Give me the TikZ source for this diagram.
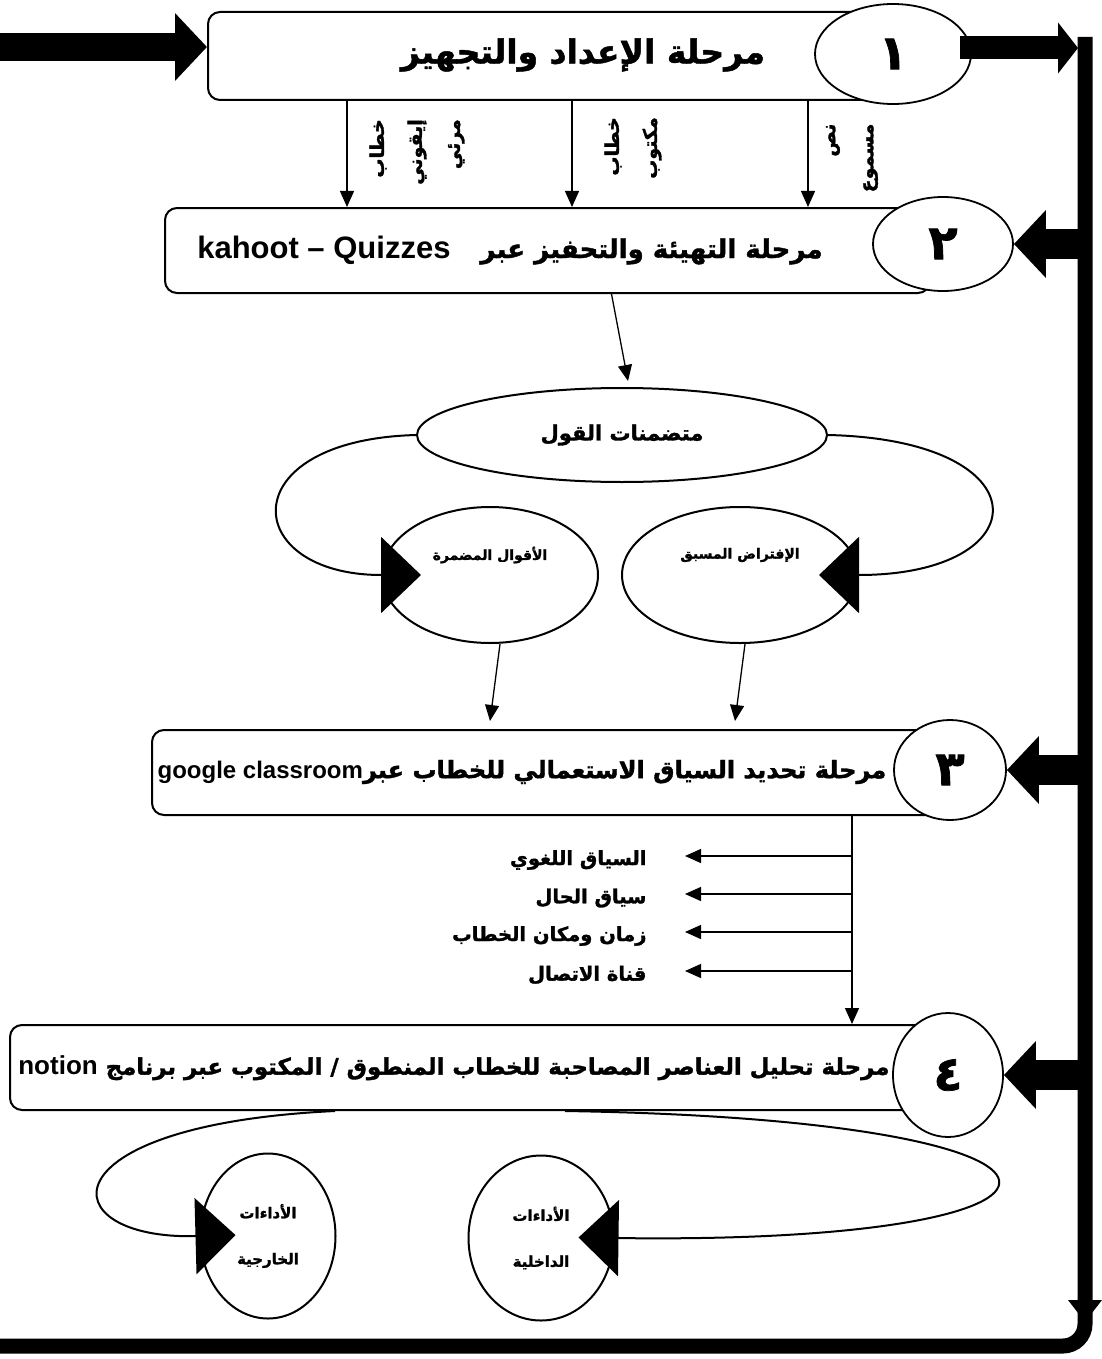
\documentclass[tikz,border=0pt]{standalone}
\usepackage{fontspec}
\usetikzlibrary{arrows.meta,shapes.geometric,positioning,calc}
\TeXXeTstate=1
\newfontfamily\arabicfont[Script=Arabic, BoldFeatures={FakeBold=1.5}]{DejaVu Sans}
\newfontfamily\latinfont{Liberation Sans}
\newcommand{\artext}[1]{\beginR #1\endR}
\newcommand{\entext}[1]{\beginL{\latinfont\bfseries #1}\endL}

\tikzset{
  stagebox/.style={draw, line width=2pt, rounded corners=12pt, inner sep=0pt},
  stagenum/.style={draw, ellipse, fill=white, line width=1.8pt, inner sep=0pt,
    font=\arabicfont\bfseries\fontsize{48}{52}\selectfont},
  stagetext/.style={font=\arabicfont\bfseries\fontsize{24}{28}\selectfont},
  oval/.style={draw, ellipse, line width=2pt, inner sep=0pt},
  smalltext/.style={font=\arabicfont\bfseries\fontsize{14}{46}\selectfont, align=center},
  listtext/.style={font=\arabicfont\bfseries\fontsize{19.5}{22}\selectfont},
  vlabel/.style={rotate=90, align=right, font=\arabicfont\bfseries\fontsize{19}{38}\selectfont},
  thin arrow/.style={line width=1.3pt, -{Triangle[length=16pt,width=14pt]}},
  fat arrow/.style={line width=30pt, -{Triangle[length=32pt,width=66pt]}},
  loop arrow/.style={line width=2pt, -{Triangle[length=40pt,width=76pt]}},
}

\begin{document}
\begin{tikzpicture}[x=1pt,y=-1pt]
\useasboundingbox (0,0) rectangle (1102,1359);

% right and bottom frame
\coordinate (bartop) at (1085,37);
\draw[line width=15pt, rounded corners=22pt] (bartop) -- (1085,1346) -- (0,1346);
\fill (1068,1300) -- (1102,1300) -- (1085,1322) -- cycle;

% stage 1
\node[stagebox, minimum width=692pt, minimum height=88pt] (b1) at (554,56) {};
\node[stagenum, minimum width=156pt, minimum height=100pt] (c1) at (893,54) {١};
\node[stagetext, font=\arabicfont\bfseries\fontsize{33}{36}\selectfont] (t1) at (583,55) {\artext{مرحلة الإعداد والتجهيز}};
\coordinate (in1) at (0,47);
\draw[fat arrow, line width=28pt] (in1) -- (in1 -| b1.west);
\draw[line width=23pt, -{Triangle[length=20pt,width=50pt]}] ($(c1.east)+(-12,-6)$) -- ($(bartop |- c1.east)+(-7,-6)$);

% stage 2
\node[stagebox, minimum width=765pt, minimum height=85pt] (b2) at (547.5,250.5) {};
\node[stagenum, minimum width=140pt, minimum height=94pt] (c2) at (943,244) {٢};
\node[stagetext, font=\arabicfont\bfseries\fontsize{26}{30}\selectfont] (t2) at (510,250) {\artext{مرحلة التهيئة والتحفيز عبر\hspace{30pt}\entext{\fontsize{31}{34}\selectfont kahoot – Quizzes}}};
\foreach \x in {347,572,808}
  \draw[thin arrow] (b1.south -| \x,0) -- (b2.north -| \x,0);
\node[vlabel] (v1) at (417,152) {\artext{خطاب}\\\artext{إيقوني}\\\artext{مرئي}};
\node[vlabel] (v2) at (633,148) {\artext{خطاب}\\\artext{مكتوب}};
\node[vlabel] (v3) at (852,158) {\artext{نص}\\\artext{مسموع}};

% implicature
\node[oval, minimum width=410pt, minimum height=94pt, font=\arabicfont\bfseries\fontsize{21}{24}\selectfont] (e0) at (622,435) {\artext{متضمنات القول}};
\draw[thin arrow] ($(b2.south)+(64,0)$) -- ($(e0.north)+(6,-6)$);
\node[oval, minimum width=216pt, minimum height=136pt] (e1) at (490,575) {};
\node[oval, minimum width=236pt, minimum height=136pt] (e2) at (740,575) {};
\node[smalltext] (e1t) at ($(e1)+(0,-20)$) {\artext{الأقوال المضمرة}};
\node[smalltext] (e2t) at ($(e2)+(0,-20)$) {\artext{الإفتراض المسبق}};
\draw[loop arrow, shorten >=-40pt] (e0.west) .. controls (230,440) and (240,575) .. (e1.west);
\draw[loop arrow, shorten >=-40pt] (e0.east) .. controls (1045,440) and (1040,575) .. (e2.east);

% stage 3
\node[stagebox, minimum width=788pt, minimum height=85pt] (b3) at (546,772.5) {};
\node[stagenum, minimum width=112pt, minimum height=100pt] (c3) at (950,770) {٣};
\node[stagetext] (t3) at (522,772) {\artext{مرحلة تحديد السياق الاستعمالي للخطاب عبر\entext{google classroom}}};
\draw[thin arrow] ($(e1.south)+(10,0)$) -- ($(b3.north -| e1.south)+(0,-8)$);
\draw[thin arrow] ($(e2.south)+(5,0)$) -- ($(b3.north -| e2.south)+(-5,-8)$);
\coordinate (split) at (b3.south -| 852,0);
\foreach \y/\txt [count=\i] in {860/السياق اللغوي, 898/سياق الحال, 936/زمان ومكان الخطاب, 975/قناة الاتصال}{
  \node[listtext, anchor=east] (item\i) at (650,\y) {\artext{\txt}};
  \draw[thin arrow] ($(split |- item\i.east)+(0,-4)$) -- ($(item\i.east)+(35,-4)$);
}

% stage 4
\node[stagebox, minimum width=930pt, minimum height=85pt] (b4) at (475,1067.5) {};
\node[stagenum, minimum width=110pt, minimum height=124pt] (c4) at (948,1075) {٤};
\node[stagetext, font=\arabicfont\bfseries\fontsize{22.8}{27}\selectfont] (t4) at (454,1068) {\artext{مرحلة تحليل العناصر المصاحبة للخطاب المنطوق / المكتوب عبر برنامج \entext{\fontsize{26}{30}\selectfont notion}}};
\draw[thin arrow] (split) -- (b4.north -| split);

% performatives
\node[oval, minimum width=135pt, minimum height=165pt, smalltext, font=\arabicfont\bfseries\fontsize{15}{46}\selectfont] (o1) at (268,1236) {\artext{الأداءات}\\\artext{الخارجية}};
\node[oval, minimum width=145pt, minimum height=165pt, smalltext, font=\arabicfont\bfseries\fontsize{15}{46}\selectfont] (o2) at (541,1238) {\artext{الأداءات}\\\artext{الداخلية}};
\draw[loop arrow, shorten >=-36pt] ($(b4.south)+(-140,0)$) .. controls (40,1125) and (50,1240) .. (o1.west);
\draw[loop arrow, shorten >=-36pt] ($(b4.south)+(90,0)$) .. controls (1140,1120) and (1130,1245) .. (o2.east);

% arrows from the frame into the stages
\foreach \c in {c2,c3,c4}
  \draw[fat arrow] (bartop |- \c.east) ++(-7,0) -- (\c.east);
\end{tikzpicture}
\end{document}
